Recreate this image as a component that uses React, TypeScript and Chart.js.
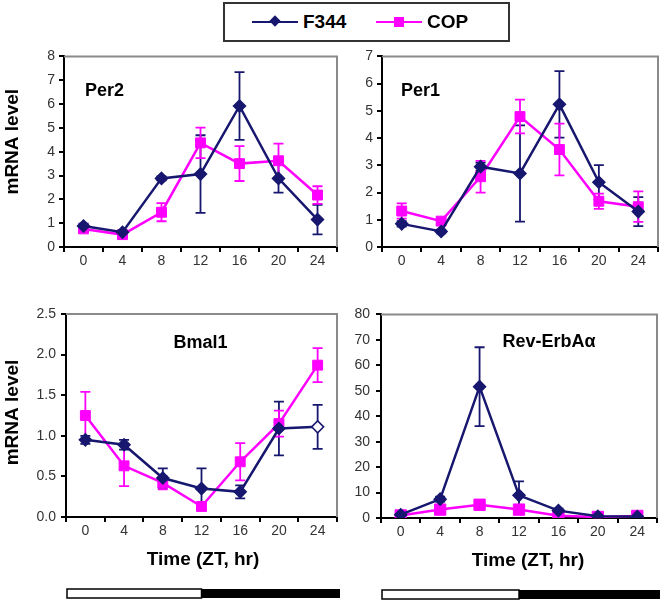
import React, { useEffect, useRef } from "react";
import { Chart, registerables } from "chart.js";

Chart.register(...registerables);

// ---------- data ----------
const TIMES = ["0", "4", "8", "12", "16", "20", "24"];
const SERIES = ["F344", "COP"];

const PER2_F344 = [0.88, 0.62, 2.88, 3.06, 5.92, 2.88, 1.15];
const PER2_F344_ERR = [0.1, 0.08, 0.08, 1.63, 1.42, 0.6, 0.62];
const PER2_COP = [0.76, 0.52, 1.46, 4.37, 3.5, 3.62, 2.18];
const PER2_COP_ERR = [0.1, 0.08, 0.38, 0.64, 0.73, 0.72, 0.37];

const PER1_F344 = [0.85, 0.57, 2.95, 2.7, 5.24, 2.38, 1.3];
const PER1_F344_ERR = [0.1, 0.07, 0.15, 1.77, 1.22, 0.63, 0.53];
const PER1_COP = [1.32, 0.95, 2.58, 4.79, 3.58, 1.68, 1.48];
const PER1_COP_ERR = [0.28, 0.1, 0.58, 0.62, 0.95, 0.28, 0.56];

const BMAL1_F344 = [0.95, 0.89, 0.48, 0.35, 0.31, 1.09, 1.11];
const BMAL1_F344_ERR = [0.05, 0.06, 0.12, 0.25, 0.08, 0.33, 0.27];
const BMAL1_COP = [1.25, 0.63, 0.42, 0.13, 0.68, 1.15, 1.87];
const BMAL1_COP_ERR = [0.29, 0.25, 0.08, 0.04, 0.23, 0.16, 0.21];

const REV_F344 = [1.3, 7.4, 51.6, 8.9, 2.9, 0.7, 0.6];
const REV_F344_ERR = [0.3, 1.0, 15.5, 5.5, 0.8, 0.2, 0.2];
const REV_COP = [1.0, 3.3, 5.2, 3.3, 0.9, 0.4, 0.8];
const REV_COP_ERR = [0.3, 0.6, 0.8, 0.6, 0.2, 0.1, 0.2];

// y axis ranges: [min, max, step]
const PER2_Y = [0, 8, 1];
const PER1_Y = [0, 7, 1];
const BMAL1_Y = [0, 2.5, 0.5];
const REV_Y = [0, 80, 10];

const NAVY = "#17176f";
const MAGENTA = "#ff00ff";
const FONT = '"Liberation Sans", Arial, Helvetica, sans-serif';

type PanelSpec = {
  title: string;
  titleAlign: "left" | "center";
  titleDx: number;
  titleDy: number;
  f344: number[];
  f344Err: number[];
  cop: number[];
  copErr: number[];
  yRange: number[];
  decimals: number;
  yWidth: number;
  xHeight: number;
  pad: { top: number; right: number; bottom: number; left: number };
  yTickPad: number;
  yTitle?: { dy: number };
  xTitle?: { dx: number };
  lightDark?: boolean;
  openLast?: boolean;
  squareRadius: number;
  box: { left: number; top: number; width: number; height: number };
};

function makeDecor(spec: PanelSpec) {
  return {
    id: "decor",
    beforeDatasetsDraw(chart: any) {
      const { ctx, chartArea: a, scales } = chart;
      // gray frame top & right
      ctx.save();
      ctx.strokeStyle = "#8a8a8a";
      ctx.lineWidth = 2;
      ctx.beginPath();
      ctx.moveTo(a.left, a.top);
      ctx.lineTo(a.right, a.top);
      ctx.lineTo(a.right, a.bottom);
      ctx.stroke();
      ctx.restore();
      // error bars
      const y = scales.y;
      chart.data.datasets.forEach((ds: any, i: number) => {
        const errs: number[] = ds.errors;
        if (!errs) return;
        const meta = chart.getDatasetMeta(i);
        ctx.save();
        ctx.strokeStyle = ds.borderColor;
        ctx.lineWidth = 1.8;
        meta.data.forEach((pt: any, j: number) => {
          const v = ds.data[j];
          const e = errs[j];
          if (!e) return;
          const x = pt.x;
          const yt = y.getPixelForValue(v + e);
          const yb = y.getPixelForValue(Math.max(v - e, y.min));
          ctx.beginPath();
          ctx.moveTo(x, yt);
          ctx.lineTo(x, yb);
          ctx.moveTo(x - 5, yt);
          ctx.lineTo(x + 5, yt);
          ctx.moveTo(x - 5, yb);
          ctx.lineTo(x + 5, yb);
          ctx.stroke();
        });
        ctx.restore();
      });
    },
    afterDraw(chart: any) {
      const { ctx, chartArea: a, scales } = chart;
      const cx = (a.left + a.right) / 2;
      const cy = (a.top + a.bottom) / 2;
      ctx.save();
      ctx.fillStyle = "#000";
      ctx.textBaseline = "middle";
      // panel title
      ctx.font = `bold 18px ${FONT}`;
      ctx.textAlign = spec.titleAlign;
      const tx = spec.titleAlign === "left" ? a.left + spec.titleDx : cx + spec.titleDx;
      ctx.fillText(spec.title, tx, a.top + spec.titleDy);
      // y title
      if (spec.yTitle) {
        ctx.save();
        ctx.font = `bold 19px ${FONT}`;
        ctx.textAlign = "center";
        ctx.translate(13, cy + spec.yTitle.dy);
        ctx.rotate(-Math.PI / 2);
        ctx.fillText("mRNA level", 0, 0);
        ctx.restore();
      }
      // x title
      if (spec.xTitle) {
        ctx.font = `bold 19px ${FONT}`;
        ctx.textAlign = "center";
        ctx.fillText("Time (ZT, hr)", cx + spec.xTitle.dx, a.bottom + 43);
      }
      // light / dark bar
      if (spec.lightDark) {
        const split = scales.x.getPixelForValue(TIMES.indexOf("12"));
        const top = a.bottom + 72;
        const h = 9;
        ctx.fillStyle = "#000";
        ctx.fillRect(split, top, a.right + 3 - split, h);
        ctx.fillStyle = "#fff";
        ctx.fillRect(a.left + 1, top, split - a.left - 1, h);
        ctx.strokeStyle = "#000";
        ctx.lineWidth = 1.5;
        ctx.strokeRect(a.left + 1, top, split - a.left - 1, h);
      }
      ctx.restore();
    },
  };
}

function buildConfig(spec: PanelSpec): any {
  const [ymin, ymax, ystep] = spec.yRange;
  const n = TIMES.length;
  const navyFill = spec.f344.map((_, i) => (spec.openLast && i === n - 1 ? "#ffffff" : NAVY));
  return {
    type: "line",
    data: {
      labels: TIMES,
      datasets: [
        {
          label: SERIES[0],
          data: spec.f344,
          errors: spec.f344Err,
          borderColor: NAVY,
          backgroundColor: NAVY,
          pointBackgroundColor: navyFill,
          pointBorderColor: NAVY,
          pointBorderWidth: 1.5,
          pointStyle: "rectRot",
          pointRadius: 6,
          borderWidth: 2.5,
          tension: 0,
        },
        {
          label: SERIES[1],
          data: spec.cop,
          errors: spec.copErr,
          borderColor: MAGENTA,
          backgroundColor: MAGENTA,
          pointBackgroundColor: MAGENTA,
          pointBorderColor: MAGENTA,
          pointBorderWidth: 1,
          pointStyle: "rect",
          pointRadius: spec.squareRadius,
          borderWidth: 2.5,
          tension: 0,
        },
      ],
    },
    options: {
      animation: false,
      responsive: false,
      devicePixelRatio: 1,
      layout: { padding: spec.pad },
      plugins: { legend: { display: false }, tooltip: { enabled: false }, title: { display: false } },
      scales: {
        x: {
          type: "category",
          offset: true,
          grid: {
            offset: true,
            drawOnChartArea: false,
            drawTicks: true,
            tickLength: 5,
            color: "#000",
            lineWidth: 2,
          },
          border: { display: true, color: "#000", width: 2 },
          ticks: { color: "#333", font: { family: FONT, size: 14 }, padding: 1, maxRotation: 0 },
          afterFit: (s: any) => {
            s.height = spec.xHeight;
          },
        },
        y: {
          min: ymin,
          max: ymax,
          grid: {
            drawOnChartArea: false,
            drawTicks: true,
            tickLength: 5,
            color: "#000",
            lineWidth: 2,
          },
          border: { display: true, color: "#000", width: 2 },
          ticks: {
            stepSize: ystep,
            color: "#333",
            font: { family: FONT, size: 14 },
            padding: spec.yTickPad,
            callback: (v: any) => Number(v).toFixed(spec.decimals),
          },
          afterFit: (s: any) => {
            s.width = spec.yWidth;
          },
        },
      },
    },
    plugins: [makeDecor(spec)],
  };
}

const PANELS: PanelSpec[] = [
  {
    title: "Per2",
    titleAlign: "left",
    titleDx: 21,
    titleDy: 35,
    f344: PER2_F344,
    f344Err: PER2_F344_ERR,
    cop: PER2_COP,
    copErr: PER2_COP_ERR,
    yRange: PER2_Y,
    decimals: 0,
    yWidth: 64,
    xHeight: 33,
    pad: { top: 10, right: 8, bottom: 0, left: 0 },
    yTickPad: 4,
    yTitle: { dy: -10 },
    squareRadius: 7,
    box: { left: 0, top: 44, width: 345, height: 236 },
  },
  {
    title: "Per1",
    titleAlign: "left",
    titleDx: 19,
    titleDy: 35,
    f344: PER1_F344,
    f344Err: PER1_F344_ERR,
    cop: PER1_COP,
    copErr: PER1_COP_ERR,
    yRange: PER1_Y,
    decimals: 0,
    yWidth: 47,
    xHeight: 33,
    pad: { top: 11, right: 8, bottom: 0, left: 0 },
    yTickPad: 4,
    squareRadius: 7,
    box: { left: 335, top: 44, width: 331, height: 236 },
  },
  {
    title: "Bmal1",
    titleAlign: "center",
    titleDx: -1,
    titleDy: 29,
    f344: BMAL1_F344,
    f344Err: BMAL1_F344_ERR,
    cop: BMAL1_COP,
    copErr: BMAL1_COP_ERR,
    yRange: BMAL1_Y,
    decimals: 1,
    yWidth: 66,
    xHeight: 84,
    pad: { top: 14, right: 4, bottom: 0, left: 0 },
    yTickPad: 5,
    yTitle: { dy: -3 },
    xTitle: { dx: 1.5 },
    lightDark: true,
    openLast: true,
    squareRadius: 7,
    box: { left: 0, top: 300, width: 345, height: 301 },
  },
  {
    title: "Rev-ErbAα",
    titleAlign: "center",
    titleDx: 30,
    titleDy: 28,
    f344: REV_F344,
    f344Err: REV_F344_ERR,
    cop: REV_COP,
    copErr: REV_COP_ERR,
    yRange: REV_Y,
    decimals: 0,
    yWidth: 46,
    xHeight: 83,
    pad: { top: 14, right: 8, bottom: 0, left: 0 },
    yTickPad: 6,
    xTitle: { dx: 9 },
    lightDark: true,
    squareRadius: 8,
    box: { left: 335, top: 300, width: 331, height: 301 },
  },
];

function PanelChart({ spec }: { spec: PanelSpec }) {
  const ref = useRef<HTMLCanvasElement | null>(null);
  useEffect(() => {
    if (!ref.current) return;
    const chart = new Chart(ref.current, buildConfig(spec));
    return () => chart.destroy();
  }, [spec]);
  return (
    <canvas
      ref={ref}
      width={spec.box.width}
      height={spec.box.height}
      style={{
        position: "absolute",
        left: spec.box.left,
        top: spec.box.top,
        width: spec.box.width,
        height: spec.box.height,
      }}
    />
  );
}

function Legend() {
  const text: React.CSSProperties = {
    position: "absolute",
    top: 6,
    font: `bold 19px ${FONT}`,
    color: "#000",
    lineHeight: "24px",
  };
  return (
    <div
      style={{
        position: "absolute",
        left: 223,
        top: 2,
        width: 283,
        height: 36,
        border: "2px solid #333",
        background: "#fff",
      }}
    >
      <div style={{ position: "absolute", left: 27, top: 17, width: 46, height: 2, background: NAVY }} />
      <div
        style={{
          position: "absolute",
          left: 46,
          top: 13,
          width: 8,
          height: 8,
          background: NAVY,
          transform: "rotate(45deg)",
        }}
      />
      <div style={{ ...text, left: 78 }}>{SERIES[0]}</div>
      <div style={{ position: "absolute", left: 151, top: 17, width: 46, height: 2, background: MAGENTA }} />
      <div
        style={{
          position: "absolute",
          left: 169,
          top: 13,
          width: 10,
          height: 10,
          background: MAGENTA,
        }}
      />
      <div style={{ ...text, left: 202 }}>{SERIES[1]}</div>
    </div>
  );
}

export default function App() {
  return (
    <div
      style={{
        position: "absolute",
        left: 0,
        top: 0,
        width: 666,
        height: 601,
        background: "#fff",
        overflow: "hidden",
      }}
    >
      {PANELS.map((p, i) => (
        <PanelChart key={i} spec={p} />
      ))}
      <Legend />
    </div>
  );
}
